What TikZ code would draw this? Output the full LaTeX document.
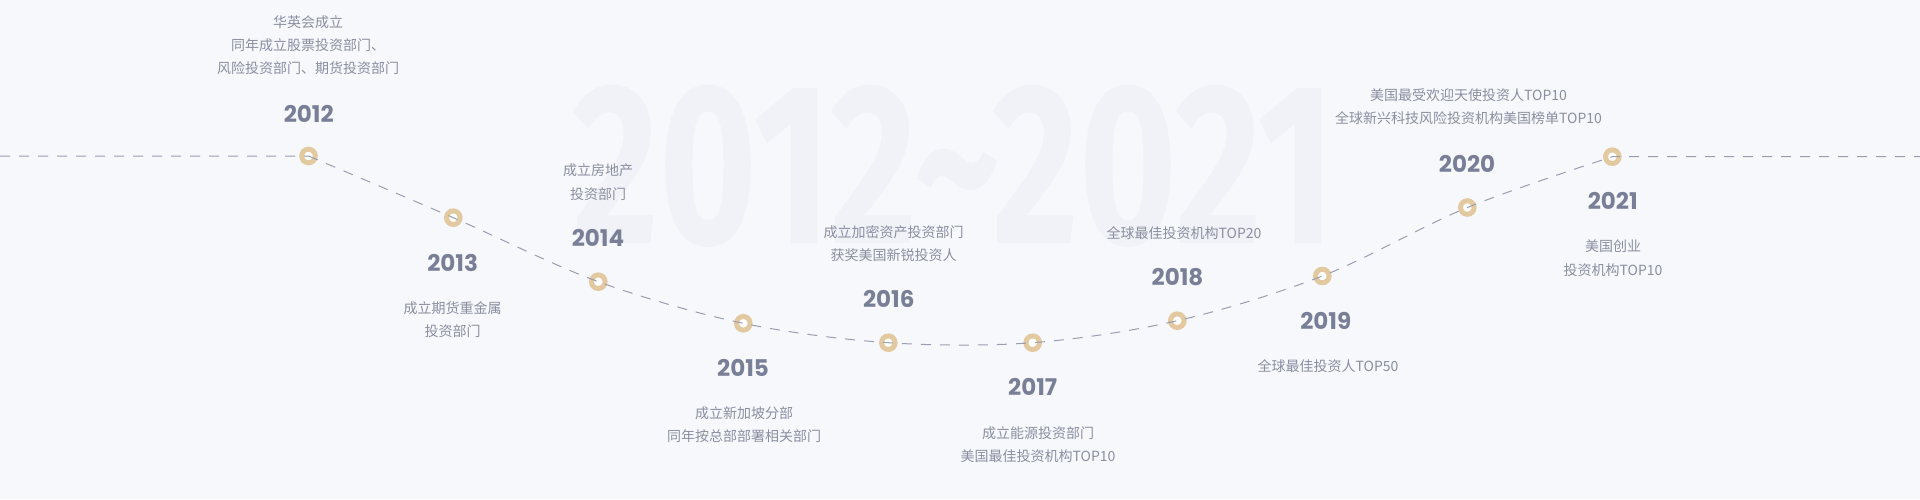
\documentclass[tikz,border=0pt]{standalone}
\usepackage{fontspec}
\usepackage{graphicx}
\newfontfamily\cjk{Noto Sans CJK SC}
\newfontfamily\yearfont{Poppins}
\newfontfamily\markfont{Fira Sans}
\definecolor{bgpage}{HTML}{F7F8FC}
\definecolor{markgray}{HTML}{F1F2F7}
\definecolor{yeargray}{HTML}{787F96}
\definecolor{descgray}{HTML}{8A8FA0}
\definecolor{ringtan}{HTML}{E2C9A0}
\definecolor{linegray}{HTML}{989EB0}

\begin{document}
\begin{tikzpicture}[x=1pt,y=-1pt,
  yearlabel/.style={text=yeargray,font=\yearfont\bfseries\fontsize{23}{23}\selectfont,inner sep=0pt},
  desc/.style={text=descgray,font=\cjk\fontsize{14}{23.3}\selectfont,align=center,inner sep=0pt},
  ring/.style={circle,draw=ringtan,line width=5pt,fill=white,minimum size=13.6pt,inner sep=0pt},
  timeline/.style={linegray,line width=1pt,dash pattern=on 10pt off 9pt}]
\fill[bgpage] (0,0) rectangle (1920,499);
\useasboundingbox (0,0) rectangle (1920,499);
\node[inner sep=0pt,text=markgray] (mark) at (954,166.5) {\resizebox{762pt}{158pt}{\markfont\bfseries 2012\textasciitilde 2021}};
\foreach \yr/\dx/\dy/\lx/\ly/\tx/\ty/\txt in {
  2012/308.5/156/308.8/113.5/308/45/{华英会成立\\同年成立股票投资部门、\\风险投资部门、期货投资部门},
  2013/453.3/217.7/452.7/262.7/452.7/319.5/{成立期货重金属\\投资部门},
  2014/598.3/281.7/598/238/598/182/{成立房地产\\投资部门},
  2015/743.3/323.3/743/368/744/424.7/{成立新加坡分部\\同年按总部部署相关部门},
  2016/888.3/342.7/888.8/299/893.5/243.3/{成立加密资产投资部门\\获奖美国新锐投资人},
  2017/1032.7/342.7/1032.7/387/1038/444.3/{成立能源投资部门\\美国最佳投资机构TOP10},
  2018/1177.3/320.7/1177.5/277.5/1184/233/{全球最佳投资机构TOP20},
  2019/1322.3/276/1325.8/321.2/1328/365.7/{全球最佳投资人TOP50},
  2020/1467.3/207.5/1467/164/1468.5/107/{美国最受欢迎天使投资人TOP10\\全球新兴科技风险投资机构美国榜单TOP10},
  2021/1612.3/156.7/1612.7/201.3/1613/258.3/{美国创业\\投资机构TOP10}}{
  \node[ring] (d\yr) at (\dx,\dy) {};
  \node[yearlabel] (y\yr) at (\lx,\ly) {\yr};
  \node[desc] (t\yr) at (\tx,\ty) {\txt};
}
\coordinate (lineL) at (0,156);
\coordinate (lineR) at (1920,156.7);
\draw[timeline] (lineL) -- (d2012.center) plot[smooth,tension=0.55] coordinates {(d2012.center) (d2013.center) (d2014.center) (d2015.center) (d2016.center) (d2017.center) (d2018.center) (d2019.center) (d2020.center) (d2021.center)} -- (lineR);
\end{tikzpicture}
\end{document}
